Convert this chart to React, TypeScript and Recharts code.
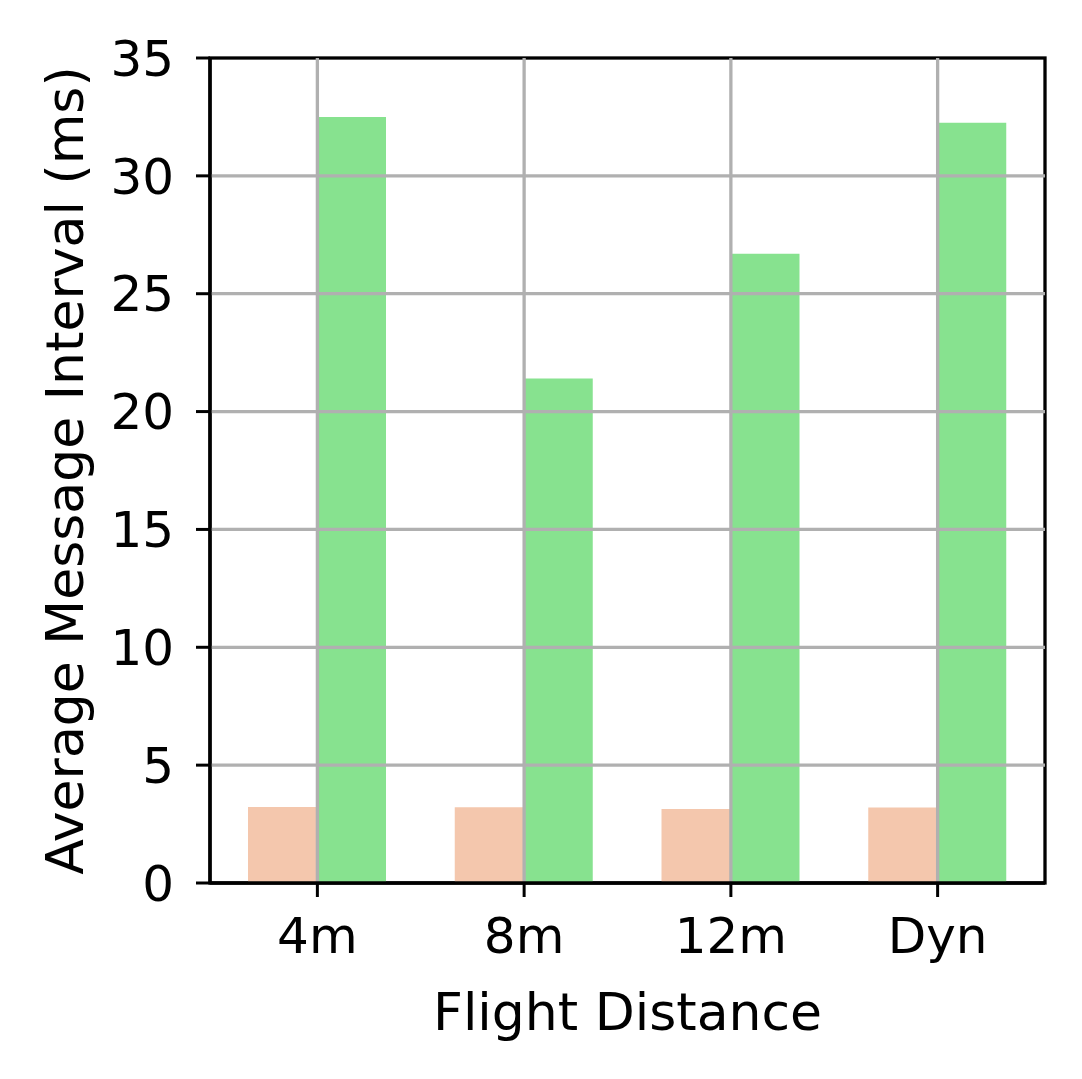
import { BarChart, Bar, XAxis, YAxis, ReferenceLine, usePlotArea } from 'recharts';

const distances = ['4m', '8m', '12m', 'Dyn'];
const baselineInterval = [3.22, 3.21, 3.14, 3.2];
const proposedInterval = [32.5, 21.4, 26.7, 32.25];
const yTicks = [0, 5, 10, 15, 20, 25, 30, 35];

const data = distances.map((d, i) => ({
  name: d,
  baseline: baselineInterval[i],
  proposed: proposedInterval[i],
}));

const FONT = '"DejaVu Sans", sans-serif';
const GRID = '#b0b0b0';

// black box around the plot area, like matplotlib spines
function Frame() {
  const area = usePlotArea();
  if (!area) return null;
  return (
    <rect x={area.x} y={area.y} width={area.width} height={area.height}
      fill="none" stroke="#000" strokeWidth={3.3} />
  );
}

export default function App() {
  return (
    <div style={{ position: 'absolute', left: 0, top: 0, background: '#fff' }}>
      <BarChart
        width={1082}
        height={1079}
        data={data}
        margin={{ top: 58, right: 37, bottom: 0, left: 0 }}
        barCategoryGap={34}
        barGap={0}
      >
        <XAxis
          dataKey="name"
          height={196}
          padding={{ left: 4, right: 4 }}
          tickSize={14}
          tickMargin={20}
          tick={{ fontSize: 50, fill: '#000', fontFamily: FONT }}
          tickLine={{ stroke: '#000', strokeWidth: 3 }}
          axisLine={{ stroke: '#000', strokeWidth: 3.3 }}
          label={{
            content: (p: any) => {
              const vb = p.viewBox;
              return (
                <text x={vb.x + vb.width / 2} y={vb.y + 147} textAnchor="middle"
                  fontSize={52} fontFamily={FONT} fill="#000">Flight Distance</text>
              );
            },
          }}
        />
        <YAxis
          width={210}
          domain={[0, 35]}
          ticks={yTicks}
          interval={0}
          tickSize={14}
          tickMargin={22}
          tick={{ fontSize: 50, fill: '#000', fontFamily: FONT }}
          tickLine={{ stroke: '#000', strokeWidth: 3 }}
          axisLine={{ stroke: '#000', strokeWidth: 3.3 }}
          label={{
            content: (p: any) => {
              const vb = p.viewBox;
              const x = vb.x + 65;
              const y = vb.y + vb.height / 2;
              return (
                <text x={x} y={y} textAnchor="middle" dominantBaseline="central"
                  transform={`rotate(-90, ${x}, ${y})`}
                  fontSize={52} fontFamily={FONT} fill="#000">Average Message Interval (ms)</text>
              );
            },
          }}
        />
        <Bar dataKey="baseline" fill="#F4C7AD" isAnimationActive={false} />
        <Bar dataKey="proposed" fill="#87E28F" isAnimationActive={false} />
        {yTicks.slice(1, -1).map((t) => (
          <ReferenceLine key={`h${t}`} y={t} stroke={GRID} strokeWidth={3.3} />
        ))}
        {distances.map((d) => (
          <ReferenceLine key={`v${d}`} x={d} stroke={GRID} strokeWidth={3.3} />
        ))}
        <Frame />
      </BarChart>
    </div>
  );
}
